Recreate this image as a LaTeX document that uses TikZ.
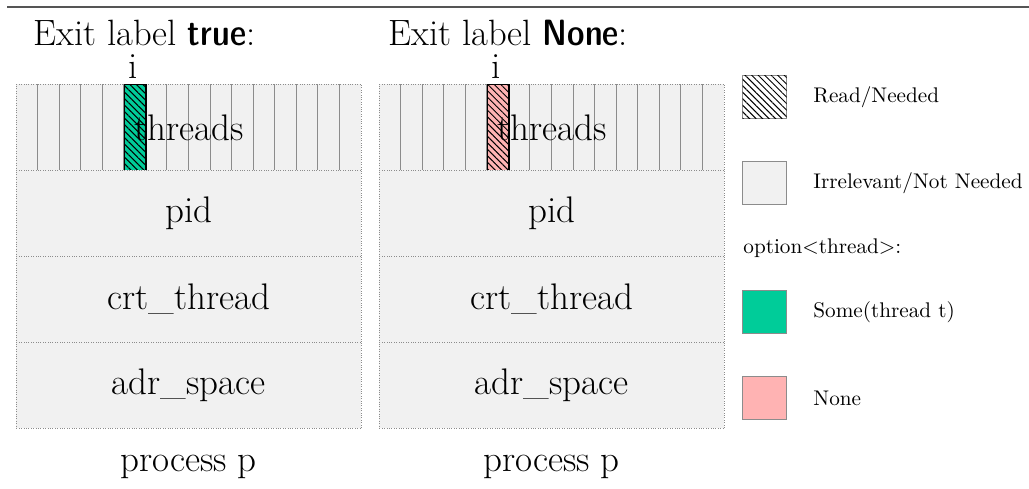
\documentclass[tikz,border=0pt]{standalone}
\usetikzlibrary{patterns.meta}
\definecolor{cellgray}{RGB}{241,241,241}
\definecolor{somegreen}{RGB}{0,204,153}
\definecolor{nonepink}{RGB}{255,179,179}
\definecolor{rulegray}{RGB}{85,85,85}
\definecolor{bordergray}{RGB}{140,140,140}
\definecolor{divgray}{RGB}{140,140,140}
\newcommand{\exitval}[1]{{\fontseries{sbc}\sffamily #1}}
\begin{document}
\begin{tikzpicture}[x=0.5pt,y=-0.5pt,
  fieldbox/.style={draw=bordergray, line width=0.4pt, dash pattern=on 0.4pt off 0.8pt,
    fill=cellgray, minimum width=172.5pt, minimum height=43pt, inner sep=0pt,
    anchor=north west, font=\fontsize{18.5}{22}\selectfont},
  hatch/.style={pattern={Lines[angle=-45,distance=2.3pt,line width=0.5pt]}, pattern color=black},
  slot/.style={draw=black, line width=0.6pt, minimum width=10.78pt, minimum height=43pt,
    inner sep=0pt, anchor=north west},
  divider/.style={draw=divgray, line width=0.5pt},
  titletext/.style={anchor=base west, inner sep=0pt, text depth=0pt,
    font=\fontsize{18.3}{21}\selectfont},
  boxtext/.style={inner sep=0pt, font=\fontsize{18.5}{22}\selectfont},
  indextext/.style={boxtext, anchor=base, text height=11pt, text depth=0pt},
  keybox/.style={draw=bordergray, line width=0.5pt, minimum width=22pt, minimum height=21.5pt,
    inner sep=0pt, anchor=north west},
  keytext/.style={anchor=west, inner sep=0pt, font=\fontsize{10.6}{12}\selectfont},
]
\useasboundingbox (0,0) rectangle (1029,488);

% heading rule
\coordinate (ruleL) at (7,7);
\coordinate (ruleR) at (1029,7);
\draw[rulegray, line width=1pt] (ruleL) -- (ruleR);

% headings
\node[titletext] (titleL) at (33,45) {Exit label \exitval{true}:};
\node[titletext] (titleR) at (388,45) {Exit label \exitval{None}:};

% two copies of the process record
\foreach \ox/\col/\nm in {16/somegreen/L, 379/nonepink/R}{
  \node[fieldbox] (\nm-threads) at (\ox,84) {};
  \foreach \k in {1,...,15}{
    \draw[divider] (\ox+\k*21.5625,84) -- (\ox+\k*21.5625,170);
  }
  \node[slot, fill=\col, postaction={hatch}] (\nm-slot) at (\ox+5*21.5625,84) {};
  \node[boxtext, anchor=base] (\nm-threadslabel) at (\ox+173,140) {threads};
  \node[indextext] (\nm-index) at (\ox+117,78) {i};
  \node[fieldbox] (\nm-pid) at (\ox,170) {pid};
  \node[fieldbox] (\nm-crt) at (\ox,256) {crt\_thread};
  \node[fieldbox] (\nm-adr) at (\ox,342) {adr\_space};
  \node[boxtext, anchor=base] (\nm-caption) at (\ox+172.5,471) {process p};
}

% legend
\node[keybox, fill=white, postaction={hatch}] (keyread) at (742,75) {};
\node[keytext] (keyreadtxt) at (813,97) {Read/Needed};
\node[keybox, fill=cellgray] (keyirr) at (742,161) {};
\node[keytext] (keyirrtxt) at (813,183) {Irrelevant/Not Needed};
\node[keytext] (keyopt) at (743,248) {option\textless thread\textgreater:};
\node[keybox, fill=somegreen] (keysome) at (742,290) {};
\node[keytext] (keysometxt) at (813,312) {Some(thread t)};
\node[keybox, fill=nonepink] (keynone) at (742,376) {};
\node[keytext] (keynonetxt) at (813,398) {None};
\end{tikzpicture}
\end{document}
